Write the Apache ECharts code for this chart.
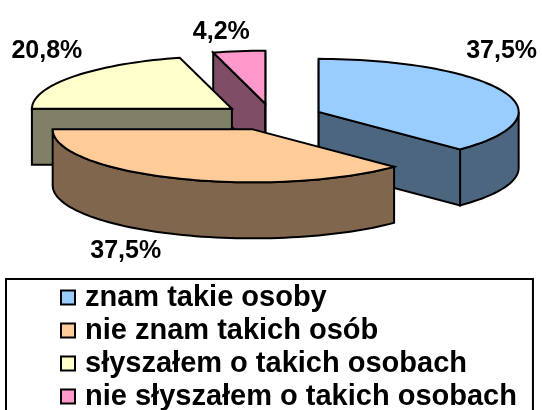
<!DOCTYPE html>
<html>
<head>
<meta charset="utf-8">
<script src="https://cdn.jsdelivr.net/npm/echarts@6/dist/echarts.min.js"></script>
<style>
  html, body { margin: 0; padding: 0; background: #fff; }
  #chart { width: 542px; height: 410px; }
</style>
</head>
<body>
<div id="chart"></div>
<script>
// Survey answers and their shares (%)
const categories = [
  'znam takie osoby',
  'nie znam takich osób',
  'słyszałem o takich osobach',
  'nie słyszałem o takich osobach'
];
const values = [37.5, 37.5, 20.8, 4.2];
const topColors = ['#99CCFF', '#FFCC99', '#FFFFCC', '#FF99CC'];

// Projection of the tilted 3D pie
const layout = {
  cx: 272, cy: 117,      // centre of the un-exploded top face
  rx: 200, ry: 53,       // semi-axes of the top ellipse
  depth: 56,             // thickness of the disc
  explode: 50.5,         // radial offset of every slice
  // label placement relative to each exploded slice centre
  labelOffsets: [[183, -61], [-127, 122], [-185, -58], [-44, -72]]
};

const total = values.reduce((s, v) => s + v, 0);
const DEG = Math.PI / 180;

// Angles run clockwise from 12 o'clock
const slices = [];
let acc = 0;
values.forEach((v, i) => {
  const a = acc / total * 360;
  acc += v;
  const b = acc / total * 360;
  const mid = (a + b) / 2 * DEG;
  const ox = layout.cx + layout.explode * Math.sin(mid);
  const oy = layout.cy - layout.explode * Math.cos(mid) * layout.ry / layout.rx;
  slices.push({ a, b, ox, oy });
});

// Back slices are painted first
const depthRank = slices.map((s, i) => i).sort((p, q) => slices[p].oy - slices[q].oy);

function darken(hex, f) {
  const n = parseInt(hex.slice(1), 16);
  const r = Math.round(((n >> 16) & 255) * f);
  const g = Math.round(((n >> 8) & 255) * f);
  const b = Math.round((n & 255) * f);
  return 'rgb(' + r + ',' + g + ',' + b + ')';
}

function fmt(v) {
  return v.toFixed(1).replace('.', ',') + '%';
}

function rim(ox, oy, deg, dz) {
  const t = deg * DEG;
  return [ox + layout.rx * Math.sin(t), oy - layout.ry * Math.cos(t) + dz];
}

function arcPts(ox, oy, a, b, dz) {
  const pts = [];
  const n = Math.max(2, Math.ceil((b - a) / 2));
  for (let k = 0; k <= n; k++) pts.push(rim(ox, oy, a + (b - a) * k / n, dz));
  return pts;
}

const edge = { stroke: '#000', lineWidth: 2, lineJoin: 'miter' };

function makeRender(idx) {
  return function (params, api) {
    const s = slices[idx];
    const d = layout.depth;
    const side = darken(topColors[idx], 0.5);
    const children = [];
    const eps = 1e-6;

    // outer wall, only the part facing the viewer (90°..270°)
    const wa = Math.max(s.a, 90), wb = Math.min(s.b, 270);
    if (wb > wa) {
      const top = arcPts(s.ox, s.oy, wa, wb, 0);
      const bot = arcPts(s.ox, s.oy, wa, wb, d).reverse();
      children.push({ type: 'polygon', shape: { points: top.concat(bot) },
        style: Object.assign({ fill: side }, edge) });
    }
    // radial cut faces
    const sa = Math.sin(s.a * DEG), sb = Math.sin(s.b * DEG);
    if (sa <= eps) {
      children.push({ type: 'polygon', shape: { points: [
        [s.ox, s.oy], rim(s.ox, s.oy, s.a, 0), rim(s.ox, s.oy, s.a, d), [s.ox, s.oy + d]] },
        style: Object.assign({ fill: side }, edge) });
    }
    if (sb >= -eps) {
      children.push({ type: 'polygon', shape: { points: [
        [s.ox, s.oy], rim(s.ox, s.oy, s.b, 0), rim(s.ox, s.oy, s.b, d), [s.ox, s.oy + d]] },
        style: Object.assign({ fill: side }, edge) });
    }
    // top face
    children.push({ type: 'polygon',
      shape: { points: [[s.ox, s.oy]].concat(arcPts(s.ox, s.oy, s.a, s.b, 0)) },
      style: Object.assign({ fill: topColors[idx] }, edge) });
    // percentage label
    const off = layout.labelOffsets[idx];
    children.push({ type: 'text', z2: 100, style: {
      text: fmt(values[idx]), x: s.ox + off[0], y: s.oy + off[1],
      align: 'center', verticalAlign: 'middle',
      font: 'bold 25px "Liberation Sans", Arial, sans-serif', fill: '#000' } });
    return { type: 'group', children };
  };
}

const series = categories.map((name, i) => ({
  type: 'custom',
  name,
  coordinateSystem: 'none',
  silent: true,
  animation: false,
  z: 2 + depthRank.indexOf(i),
  itemStyle: { color: topColors[i] },
  renderItem: makeRender(i),
  data: [[slices[i].a, slices[i].b]]
}));

const chart = echarts.init(document.getElementById('chart'), null, { renderer: 'canvas' });
chart.setOption({
  backgroundColor: '#fff',
  animation: false,
  legend: {
    data: categories,
    orient: 'vertical',
    left: 6, top: 279,
    width: 480, height: 150,
    padding: [2, 16, 20, 54],
    borderColor: '#000', borderWidth: 2,
    itemGap: 0, itemWidth: 14, itemHeight: 14,
    icon: 'rect',
    selectedMode: false,
    itemStyle: { borderColor: '#000', borderWidth: 2 },
    textStyle: {
      fontFamily: '"Liberation Sans", Arial, sans-serif',
      fontWeight: 'bold', fontSize: 29, color: '#000',
      lineHeight: 33, padding: [0, 0, 0, 5]
    }
  },
  series
});
</script>
</body>
</html>
